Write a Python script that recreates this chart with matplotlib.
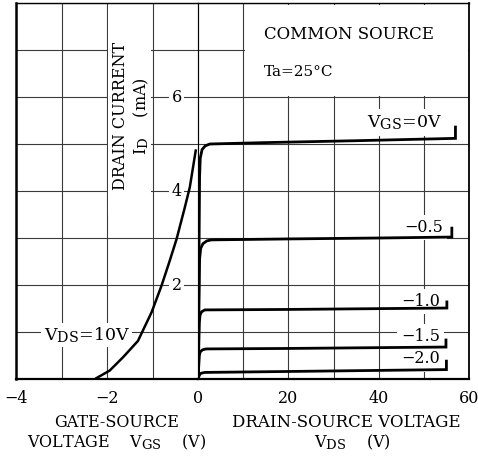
import matplotlib.pyplot as plt
import matplotlib._mathtext as mathtext
from matplotlib.patches import Rectangle

plt.rcParams['font.family'] = 'DejaVu Serif'
plt.rcParams['mathtext.fontset'] = 'dejavuserif'
# the datasheet uses nearly full size subscripts
mathtext.SHRINK_FACTOR = 0.82

# transfer curve, VDS = 10V
vgs_transfer = [-2.23, -1.94, -1.65, -1.32, -1.02, -0.80, -0.62, -0.47, -0.29, -0.18, -0.05]
id_transfer = [0.02, 0.18, 0.46, 0.81, 1.42, 1.99, 2.52, 2.98, 3.65, 4.08, 4.86]

# output curves, one per VGS
vgs_labels = ["$\\mathregular{V_{GS}}$=0V", "\u22120.5", "\u22121.0", "\u22121.5", "\u22122.0"]
vds_curves = [
    [0, 0.25, 0.35, 0.5, 0.9, 1.6, 2.6, 15, 35, 57, 57],
    [0, 0.25, 0.35, 0.6, 1.1, 2.0, 3.0, 20, 40, 56.2, 56.2],
    [0, 0.3, 0.45, 0.8, 1.5, 20, 55.1, 55.1],
    [0, 0.3, 0.5, 1.0, 1.8, 20, 54.9, 54.9],
    [0, 0.3, 0.6, 1.5, 20, 55, 55],
]
id_curves = [
    [0, 3.0, 4.3, 4.7, 4.88, 4.96, 5.0, 5.03, 5.07, 5.12, 5.36],
    [0, 1.8, 2.55, 2.78, 2.88, 2.94, 2.96, 2.98, 3.0, 3.02, 3.21],
    [0, 1.2, 1.36, 1.43, 1.47, 1.48, 1.51, 1.64],
    [0, 0.5, 0.58, 0.62, 0.64, 0.65, 0.68, 0.83],
    [0, 0.08, 0.12, 0.14, 0.16, 0.2, 0.38],
]
# where each VGS label sits (right edge, baseline)
label_x = [54.1, 54.2, 53.6, 53.6, 53.6]
label_y = [5.36, 3.13, 1.55, 0.80, 0.33]

vgs_ticks = [-4, -3, -2, -1, 0]
vgs_ticklabels = ["\u22124", "", "\u22122", "", "0"]
vds_ticks = [0, 10, 20, 30, 40, 50, 60]
vds_ticklabels = ["", "", "20", "", "40", "", "60"]
id_ticks = [0, 1, 2, 3, 4, 5, 6, 7, 8]
id_labels = [2, 4, 6]

fs = 11.5
grid_kw = dict(color='#3a3a3a', linewidth=0.8)

fig = plt.figure(figsize=(4.78, 4.59), dpi=100)
axl = fig.add_axes([16/478, 80/459, 182/478, 376/459])
axr = fig.add_axes([198/478, 80/459, 271/478, 376/459])

for ax in (axl, axr):
    ax.set_ylim(0, 8)
    ax.set_yticks(id_ticks)
    ax.set_yticklabels([])
    ax.grid(True, **grid_kw)
    ax.tick_params(length=0, pad=8, labelsize=fs)
    ax.spines['bottom'].set_linewidth(1.6)
    ax.spines['top'].set_linewidth(1.0)

axl.set_xlim(-4, 0)
axl.set_xticks(vgs_ticks)
axl.set_xticklabels(vgs_ticklabels)
axl.spines['left'].set_linewidth(1.8)
axl.spines['right'].set_visible(False)

axr.set_xlim(0, 60)
axr.set_xticks(vds_ticks)
axr.set_xticklabels(vds_ticklabels)
axr.spines['left'].set_linewidth(0.8)
axr.spines['right'].set_linewidth(1.3)

# white areas behind the texts (kept inside the frame lines)
axl.add_patch(Rectangle((-1.975, 3.5), 0.95, 4.46, fc='white', ec='none', zorder=2.8))
axr.add_patch(Rectangle((10.3, 6.03), 49.45, 1.93, fc='white', ec='none', zorder=2.8))

axl.plot(vgs_transfer, id_transfer, color='black', lw=1.8, zorder=5)
axl.text(-2.45, 0.83, "$\\mathregular{V_{DS}}$=10V", fontsize=12.5, ha='center', va='baseline',
         bbox=dict(fc='white', ec='none', pad=1.5), zorder=3)

for v, i in zip(vds_curves, id_curves):
    axr.plot(v, i, color='black', lw=2.0, zorder=5, solid_joinstyle='miter')
for n, (lab, x, y) in enumerate(zip(vgs_labels, label_x, label_y)):
    axr.text(x, y, lab, fontsize=12.5 if n == 0 else fs, ha='right', va='baseline',
             bbox=dict(fc='white', ec='none', pad=3), zorder=3)

for v in id_labels:
    axl.text(-0.47, v, str(v), fontsize=fs, ha='center', va='center',
             bbox=dict(fc='white', ec='none', pad=1.5), zorder=3)

axl.text(-1.46, 5.6, "DRAIN CURRENT\n$\\mathregular{I_D}$    (mA)", fontsize=fs,
         rotation=90, ha='center', va='center', multialignment='center', linespacing=1.2, zorder=3)

axr.text(14.6, 7.23, "COMMON SOURCE", fontsize=12, va='baseline', zorder=3)
axr.text(14.6, 6.45, "Ta=25\u00b0C", fontsize=11, va='baseline', zorder=3)

fig.text(117/478, 1 - 427/459, "GATE-SOURCE", fontsize=fs, ha='center', va='baseline')
fig.text(117/478, 1 - 447/459, "VOLTAGE    $\\mathregular{V_{GS}}$    (V)", fontsize=fs, ha='center', va='baseline')
fig.text(346/478, 1 - 427/459, "DRAIN-SOURCE VOLTAGE", fontsize=12, ha='center', va='baseline')
fig.text(352/478, 1 - 447/459, "$\\mathregular{V_{DS}}$    (V)", fontsize=fs, ha='center', va='baseline')

fig.savefig("out.png", dpi=100)
